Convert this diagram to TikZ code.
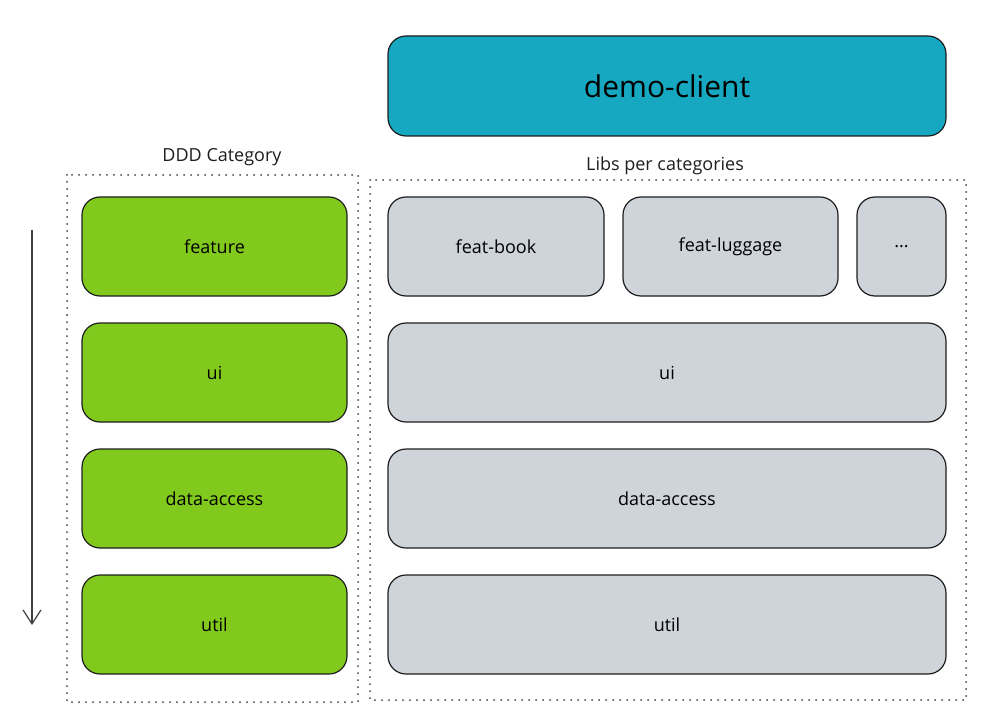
\documentclass[tikz,border=0pt]{standalone}
\usepackage{fontspec}
\setmainfont{Open Sans}
\usetikzlibrary{arrows.meta}
\definecolor{teal}{HTML}{15A8C0}
\definecolor{lgreen}{HTML}{82C91E}
\definecolor{lgray}{HTML}{CED4DA}
\definecolor{ink}{HTML}{1E1E1E}
\begin{document}
\begin{tikzpicture}[x=1pt,y=-1pt,
  box/.style={draw=ink,line width=1.2pt,rounded corners=18pt,font=\fontsize{18}{20}\selectfont},
  gbox/.style={box,fill=lgreen},
  ybox/.style={box,fill=lgray},
  group/.style={draw=ink!85,line width=2pt,line cap=round,dash pattern=on 0pt off 7pt},
  lbl/.style={font=\fontsize{18}{20}\selectfont,text=ink}]
\useasboundingbox (0,0) rectangle (1004,722);
% groups
\draw[group] (67,175) rectangle (358,702);
\draw[group] (370,180) rectangle (966,700);
\node[lbl] (ddd) at (222,157) {DDD Category};
\node[lbl] (libs) at (665,166) {Libs per categories};
% top
\draw[box,fill=teal] (388,36) rectangle (946,136) node[midway,font=\fontsize{30}{34}\selectfont] (demo) {demo-client};
% green
\draw[gbox] (82,197) rectangle (347,296) node[midway] (gfeat) {feature};
\draw[gbox] (82,323) rectangle (347,422) node[midway] (gui) {ui};
\draw[gbox] (82,449) rectangle (347,548) node[midway] (gda) {data-access};
\draw[gbox] (82,575) rectangle (347,674) node[midway] (gutil) {util};
% gray
\draw[ybox] (388,197) rectangle (604,296) node[midway] (fbook) {feat-book};
\draw[ybox] (623,197) rectangle (838,296) node[midway] (flug) {feat-luggage};
\draw[ybox] (857,197) rectangle (946,296) node[midway] (dots) {...};
\draw[ybox] (388,323) rectangle (946,422) node[midway] (rui) {ui};
\draw[ybox] (388,449) rectangle (946,548) node[midway] (rda) {data-access};
\draw[ybox] (388,575) rectangle (946,674) node[midway] (rutil) {util};
% arrow
\coordinate (atop) at (32,230);
\coordinate (abot) at (32,625);
\draw[ink!85,line width=1.2pt,-{Straight Barb[length=14pt,width=18pt,line width=1.2pt]}] (atop) -- (abot);
\end{tikzpicture}
\end{document}
